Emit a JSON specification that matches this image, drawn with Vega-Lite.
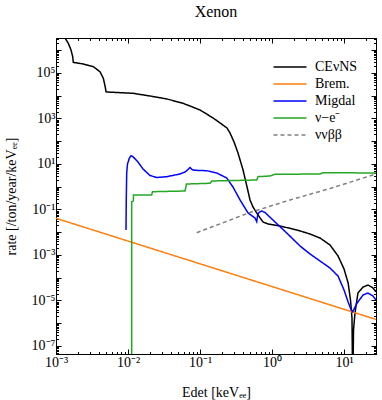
{
  "$schema": "https://vega.github.io/schema/vega-lite/v6.json",
  "width": 320,
  "height": 316,
  "autosize": "none",
  "padding": {"left": 56, "top": 38, "right": 6, "bottom": 46},
  "title": {"text": "Xenon", "font": "Liberation Serif", "fontSize": 16, "fontWeight": "normal", "color": "black", "anchor": "middle", "frame": "group", "baseline": "alphabetic", "offset": -1},
  "data": {"values": [
    {"s": "CEνNS", "i": 1, "E": 0.00129, "r": 5.7e6},
    {"s": "CEνNS", "i": 2, "E": 0.001334, "r": 3.45e6},
    {"s": "CEνNS", "i": 3, "E": 0.001483, "r": 2.02e6},
    {"s": "CEνNS", "i": 4, "E": 0.001615, "r": 1.03e6},
    {"s": "CEνNS", "i": 5, "E": 0.001706, "r": 5.2e5},
    {"s": "CEνNS", "i": 6, "E": 0.001738, "r": 2.95e5},
    {"s": "CEνNS", "i": 7, "E": 0.001836, "r": 2.84e5},
    {"s": "CEνNS", "i": 8, "E": 0.00239, "r": 2.49e5},
    {"s": "CEνNS", "i": 9, "E": 0.0033, "r": 1.89e5},
    {"s": "CEνNS", "i": 10, "E": 0.00408, "r": 1.14e5},
    {"s": "CEνNS", "i": 11, "E": 0.00454, "r": 5.85e4},
    {"s": "CEνNS", "i": 12, "E": 0.0048, "r": 2.68e4},
    {"s": "CEνNS", "i": 13, "E": 0.00495, "r": 1.51e4},
    {"s": "CEνNS", "i": 14, "E": 0.00511, "r": 1.46e4},
    {"s": "CEνNS", "i": 15, "E": 0.0117, "r": 1.28e4},
    {"s": "CEνNS", "i": 16, "E": 0.0202, "r": 9750},
    {"s": "CEνNS", "i": 17, "E": 0.0348, "r": 7200},
    {"s": "CEνNS", "i": 18, "E": 0.0581, "r": 4660},
    {"s": "CEνNS", "i": 19, "E": 0.1, "r": 2370},
    {"s": "CEνNS", "i": 20, "E": 0.152, "r": 1050},
    {"s": "CEνNS", "i": 21, "E": 0.19, "r": 634},
    {"s": "CEνNS", "i": 22, "E": 0.237, "r": 382},
    {"s": "CEνNS", "i": 23, "E": 0.261, "r": 231},
    {"s": "CEνNS", "i": 24, "E": 0.297, "r": 92.7},
    {"s": "CEνNS", "i": 25, "E": 0.337, "r": 30.5},
    {"s": "CEνNS", "i": 26, "E": 0.396, "r": 5.45},
    {"s": "CEνNS", "i": 27, "E": 0.45, "r": 0.975},
    {"s": "CEνNS", "i": 28, "E": 0.495, "r": 0.262},
    {"s": "CEνNS", "i": 29, "E": 0.544, "r": 0.129},
    {"s": "CEνNS", "i": 30, "E": 0.64, "r": 0.0573},
    {"s": "CEνNS", "i": 31, "E": 0.75, "r": 0.0282},
    {"s": "CEνNS", "i": 32, "E": 0.88, "r": 0.0231},
    {"s": "CEνNS", "i": 33, "E": 1.29, "r": 0.0188},
    {"s": "CEνNS", "i": 34, "E": 2.22, "r": 0.01256},
    {"s": "CEνNS", "i": 35, "E": 3.37, "r": 0.00837},
    {"s": "CEνNS", "i": 36, "E": 4.64, "r": 0.00559},
    {"s": "CEνNS", "i": 37, "E": 6.39, "r": 0.00275},
    {"s": "CEνNS", "i": 38, "E": 8.26, "r": 0.000904},
    {"s": "CEνNS", "i": 39, "E": 10.0, "r": 0.000243},
    {"s": "CEνNS", "i": 40, "E": 11.4, "r": 5.88e-5},
    {"s": "CEνNS", "i": 41, "E": 12.3, "r": 1.05e-5},
    {"s": "CEνNS", "i": 42, "E": 12.9, "r": 1.7e-6},
    {"s": "CEνNS", "i": 43, "E": 13.2, "r": 1e-9},
    {"s": "CEνNS", "i": 44, "E": 13.55, "r": 5.05e-7},
    {"s": "CEνNS", "i": 45, "E": 14.2, "r": 2.82e-6},
    {"s": "CEνNS", "i": 46, "E": 15.6, "r": 2.14e-5},
    {"s": "CEνNS", "i": 47, "E": 18.4, "r": 3.92e-5},
    {"s": "CEνNS", "i": 48, "E": 21.5, "r": 4.8e-5},
    {"s": "CEνNS", "i": 49, "E": 25.3, "r": 3.54e-5},
    {"s": "CEνNS", "i": 50, "E": 27.8, "r": 2.37e-5},

    {"s": "Brem.", "i": 1, "E": 0.001, "r": 0.041},
    {"s": "Brem.", "i": 2, "E": 27.8, "r": 1.475e-6},

    {"s": "Migdal", "i": 1, "E": 0.00938, "r": 0.01256},
    {"s": "Migdal", "i": 2, "E": 0.00946, "r": 0.262},
    {"s": "Migdal", "i": 3, "E": 0.00959, "r": 4.02},
    {"s": "Migdal", "i": 4, "E": 0.00984, "r": 10},
    {"s": "Migdal", "i": 5, "E": 0.01043, "r": 17.8},
    {"s": "Migdal", "i": 6, "E": 0.011, "r": 23.2},
    {"s": "Migdal", "i": 7, "E": 0.01173, "r": 20.9},
    {"s": "Migdal", "i": 8, "E": 0.01377, "r": 12.2},
    {"s": "Migdal", "i": 9, "E": 0.01615, "r": 6.03},
    {"s": "Migdal", "i": 10, "E": 0.0202, "r": 3.13},
    {"s": "Migdal", "i": 11, "E": 0.0251, "r": 2.55},
    {"s": "Migdal", "i": 12, "E": 0.0345, "r": 2.77},
    {"s": "Migdal", "i": 13, "E": 0.0527, "r": 3.63},
    {"s": "Migdal", "i": 14, "E": 0.0619, "r": 4.45},
    {"s": "Migdal", "i": 15, "E": 0.0681, "r": 5.73},
    {"s": "Migdal", "i": 16, "E": 0.0726, "r": 7.0},
    {"s": "Migdal", "i": 17, "E": 0.0774, "r": 5.73},
    {"s": "Migdal", "i": 18, "E": 0.0853, "r": 5.28},
    {"s": "Migdal", "i": 19, "E": 0.124, "r": 5.07},
    {"s": "Migdal", "i": 20, "E": 0.171, "r": 4.02},
    {"s": "Migdal", "i": 21, "E": 0.235, "r": 2.43},
    {"s": "Migdal", "i": 22, "E": 0.287, "r": 0.975},
    {"s": "Migdal", "i": 23, "E": 0.36, "r": 0.262},
    {"s": "Migdal", "i": 24, "E": 0.465, "r": 0.07},
    {"s": "Migdal", "i": 25, "E": 0.581, "r": 0.0423},
    {"s": "Migdal", "i": 26, "E": 0.613, "r": 0.0291},
    {"s": "Migdal", "i": 27, "E": 0.632, "r": 0.0573},
    {"s": "Migdal", "i": 28, "E": 0.659, "r": 0.0738},
    {"s": "Migdal", "i": 29, "E": 0.719, "r": 0.0859},
    {"s": "Migdal", "i": 30, "E": 0.8, "r": 0.0738},
    {"s": "Migdal", "i": 31, "E": 1.03, "r": 0.0345},
    {"s": "Migdal", "i": 32, "E": 1.6, "r": 0.00927},
    {"s": "Migdal", "i": 33, "E": 2.45, "r": 0.00249},
    {"s": "Migdal", "i": 34, "E": 3.37, "r": 0.00111},
    {"s": "Migdal", "i": 35, "E": 4.64, "r": 0.000545},
    {"s": "Migdal", "i": 36, "E": 6.39, "r": 0.000268},
    {"s": "Migdal", "i": 37, "E": 8.26, "r": 0.000119},
    {"s": "Migdal", "i": 38, "E": 10.0, "r": 2.9e-5},
    {"s": "Migdal", "i": 39, "E": 11.4, "r": 8.6e-6},
    {"s": "Migdal", "i": 40, "E": 12.5, "r": 4.02e-6},
    {"s": "Migdal", "i": 41, "E": 13.2, "r": 3.22e-6},
    {"s": "Migdal", "i": 42, "E": 14.0, "r": 4.68e-6},
    {"s": "Migdal", "i": 43, "E": 15.2, "r": 7.76e-6},
    {"s": "Migdal", "i": 44, "E": 18.4, "r": 1.75e-5},
    {"s": "Migdal", "i": 45, "E": 21.5, "r": 2.14e-5},
    {"s": "Migdal", "i": 46, "E": 25.3, "r": 1.58e-5},
    {"s": "Migdal", "i": 47, "E": 27.8, "r": 1.05e-5},

    {"s": "ν−e⁻", "i": 1, "E": 0.01125, "r": 1e-12},
    {"s": "ν−e⁻", "i": 2, "E": 0.01125, "r": 0.22},
    {"s": "ν−e⁻", "i": 3, "E": 0.01186, "r": 0.236},
    {"s": "ν−e⁻", "i": 4, "E": 0.0119, "r": 0.434},
    {"s": "ν−e⁻", "i": 5, "E": 0.0213, "r": 0.434},
    {"s": "ν−e⁻", "i": 6, "E": 0.0219, "r": 0.605},
    {"s": "ν−e⁻", "i": 7, "E": 0.0619, "r": 0.65},
    {"s": "ν−e⁻", "i": 8, "E": 0.0649, "r": 1.32},
    {"s": "ν−e⁻", "i": 9, "E": 0.138, "r": 1.42},
    {"s": "ν−e⁻", "i": 10, "E": 0.146, "r": 1.79},
    {"s": "ν−e⁻", "i": 11, "E": 0.614, "r": 1.98},
    {"s": "ν−e⁻", "i": 12, "E": 0.64, "r": 2.77},
    {"s": "ν−e⁻", "i": 13, "E": 0.938, "r": 2.97},
    {"s": "ν−e⁻", "i": 14, "E": 1.1, "r": 3.53},
    {"s": "ν−e⁻", "i": 15, "E": 4.64, "r": 3.63},
    {"s": "ν−e⁻", "i": 16, "E": 5.11, "r": 4.15},
    {"s": "ν−e⁻", "i": 17, "E": 27.8, "r": 4.02},

    {"s": "ννββ", "i": 1, "E": 0.09, "r": 0.00955},
    {"s": "ννββ", "i": 2, "E": 0.494, "r": 0.0738},
    {"s": "ννββ", "i": 3, "E": 1.778, "r": 0.262},
    {"s": "ννββ", "i": 4, "E": 6.39, "r": 0.837},
    {"s": "ννββ", "i": 5, "E": 27.8, "r": 3.63}
  ]},
  "layer": [
    {
      "mark": {"type": "line", "strokeWidth": 1.5, "clip": true},
      "encoding": {
        "x": {"field": "E", "type": "quantitative",
          "scale": {"type": "log", "domain": [0.001, 27.8], "nice": false},
          "axis": {"orient": "bottom", "title": "Edet [keVₑₑ]", "titlePadding": 14,
            "values": [0.001,0.002,0.003,0.004,0.005,0.006,0.007,0.008,0.009,0.01,0.02,0.03,0.04,0.05,0.06,0.07,0.08,0.09,0.1,0.2,0.3,0.4,0.5,0.6,0.7,0.8,0.9,1,2,3,4,5,6,7,8,9,10,20],
            "labelExpr": "abs(log(datum.value)/LN10 - round(log(datum.value)/LN10)) < 0.01 ? '10' + (round(log(datum.value)/LN10) < 0 ? '⁻' : '') + ['⁰','¹','²','³','⁴','⁵','⁶','⁷','⁸','⁹'][abs(round(log(datum.value)/LN10))] : ''",
            "tickSize": {"condition": {"test": "abs(log(datum.value)/LN10 - round(log(datum.value)/LN10)) < 0.01", "value": -5}, "value": -2.5},
            "labelPadding": 6}},
        "y": {"field": "r", "type": "quantitative",
          "scale": {"type": "log", "domain": [4.45e-8, 3.45e6], "nice": false},
          "axis": {"orient": "left", "title": "rate [/ton/year/keVₑₑ]", "titlePadding": 13,
            "values": [5e-8,6e-8,7e-8,8e-8,9e-8,1e-7,2e-7,3e-7,4e-7,5e-7,6e-7,7e-7,8e-7,9e-7,1e-6,2e-6,3e-6,4e-6,5e-6,6e-6,7e-6,8e-6,9e-6,1e-5,2e-5,3e-5,4e-5,5e-5,6e-5,7e-5,8e-5,9e-5,1e-4,2e-4,3e-4,4e-4,5e-4,6e-4,7e-4,8e-4,9e-4,1e-3,2e-3,3e-3,4e-3,5e-3,6e-3,7e-3,8e-3,9e-3,1e-2,2e-2,3e-2,4e-2,5e-2,6e-2,7e-2,8e-2,9e-2,0.1,0.2,0.3,0.4,0.5,0.6,0.7,0.8,0.9,1,2,3,4,5,6,7,8,9,10,20,30,40,50,60,70,80,90,100,200,300,400,500,600,700,800,900,1000,2000,3000,4000,5000,6000,7000,8000,9000,1e4,2e4,3e4,4e4,5e4,6e4,7e4,8e4,9e4,1e5,2e5,3e5,4e5,5e5,6e5,7e5,8e5,9e5,1e6,2e6,3e6],
            "labelExpr": "abs(log(datum.value)/LN10 - round(log(datum.value)/LN10)) < 0.01 && abs(round(log(datum.value)/LN10)) % 2 == 1 ? '10' + (round(log(datum.value)/LN10) < 0 ? '⁻' : '') + ['⁰','¹','²','³','⁴','⁵','⁶','⁷','⁸','⁹'][abs(round(log(datum.value)/LN10))] : ''",
            "tickSize": {"condition": {"test": "abs(log(datum.value)/LN10 - round(log(datum.value)/LN10)) < 0.01", "value": -5}, "value": -2.5},
            "labelPadding": 6}},
        "color": {"field": "s", "type": "nominal",
          "scale": {"domain": ["CEνNS", "Brem.", "Migdal", "ν−e⁻", "ννββ"], "range": ["#000000", "#ff7f0e", "#0000ff", "#22a822", "#808080"]},
          "legend": {"orient": "none", "legendX": 227, "legendY": 22, "title": null, "symbolType": "M-3,0L3,0", "symbolSize": 121, "symbolStrokeWidth": 1.5, "labelFont": "Liberation Serif", "labelFontSize": 14, "labelColor": "black", "padding": 0, "labelOffset": 18, "rowPadding": 3}},
        "strokeDash": {"field": "s", "type": "nominal",
          "scale": {"domain": ["CEνNS", "Brem.", "Migdal", "ν−e⁻", "ννββ"], "range": [[1, 0], [1, 0], [1, 0], [1, 0], [4, 3]]},
          "legend": {"orient": "none", "legendX": 227, "legendY": 22, "title": null, "symbolType": "M-3,0L3,0", "symbolSize": 121, "symbolStrokeWidth": 1.5, "labelFont": "Liberation Serif", "labelFontSize": 14, "labelColor": "black", "padding": 0, "labelOffset": 18, "rowPadding": 3}},
        "order": {"field": "i", "type": "quantitative"}
      }
    },
    {
      "mark": {"type": "line", "opacity": 0, "clip": true},
      "encoding": {
        "x": {"field": "E", "type": "quantitative",
          "scale": {"type": "log", "domain": [0.001, 27.8], "nice": false},
          "axis": {"orient": "top", "title": null, "labels": false,
            "values": [0.001,0.002,0.003,0.004,0.005,0.006,0.007,0.008,0.009,0.01,0.02,0.03,0.04,0.05,0.06,0.07,0.08,0.09,0.1,0.2,0.3,0.4,0.5,0.6,0.7,0.8,0.9,1,2,3,4,5,6,7,8,9,10,20],
            "tickSize": {"condition": {"test": "abs(log(datum.value)/LN10 - round(log(datum.value)/LN10)) < 0.01", "value": -5}, "value": -2.5}}},
        "y": {"field": "r", "type": "quantitative",
          "scale": {"type": "log", "domain": [4.45e-8, 3.45e6], "nice": false},
          "axis": {"orient": "right", "title": null, "labels": false,
            "values": [5e-8,6e-8,7e-8,8e-8,9e-8,1e-7,2e-7,3e-7,4e-7,5e-7,6e-7,7e-7,8e-7,9e-7,1e-6,2e-6,3e-6,4e-6,5e-6,6e-6,7e-6,8e-6,9e-6,1e-5,2e-5,3e-5,4e-5,5e-5,6e-5,7e-5,8e-5,9e-5,1e-4,2e-4,3e-4,4e-4,5e-4,6e-4,7e-4,8e-4,9e-4,1e-3,2e-3,3e-3,4e-3,5e-3,6e-3,7e-3,8e-3,9e-3,1e-2,2e-2,3e-2,4e-2,5e-2,6e-2,7e-2,8e-2,9e-2,0.1,0.2,0.3,0.4,0.5,0.6,0.7,0.8,0.9,1,2,3,4,5,6,7,8,9,10,20,30,40,50,60,70,80,90,100,200,300,400,500,600,700,800,900,1000,2000,3000,4000,5000,6000,7000,8000,9000,1e4,2e4,3e4,4e4,5e4,6e4,7e4,8e4,9e4,1e5,2e5,3e5,4e5,5e5,6e5,7e5,8e5,9e5,1e6,2e6,3e6],
            "tickSize": {"condition": {"test": "abs(log(datum.value)/LN10 - round(log(datum.value)/LN10)) < 0.01", "value": -5}, "value": -2.5}}},
        "order": {"field": "i", "type": "quantitative"}
      }
    }
  ],
  "resolve": {"axis": {"x": "independent", "y": "independent"}},
  "config": {
    "view": {"stroke": "black", "strokeWidth": 1},
    "axis": {"domainColor": "black", "tickColor": "black", "labelColor": "black", "titleColor": "black", "labelFont": "Liberation Serif", "labelFontSize": 14, "titleFont": "Liberation Serif", "titleFontSize": 14, "titleFontWeight": "normal", "grid": false, "labelOverlap": false, "labelFlush": false, "labelBound": false}
  }
}
